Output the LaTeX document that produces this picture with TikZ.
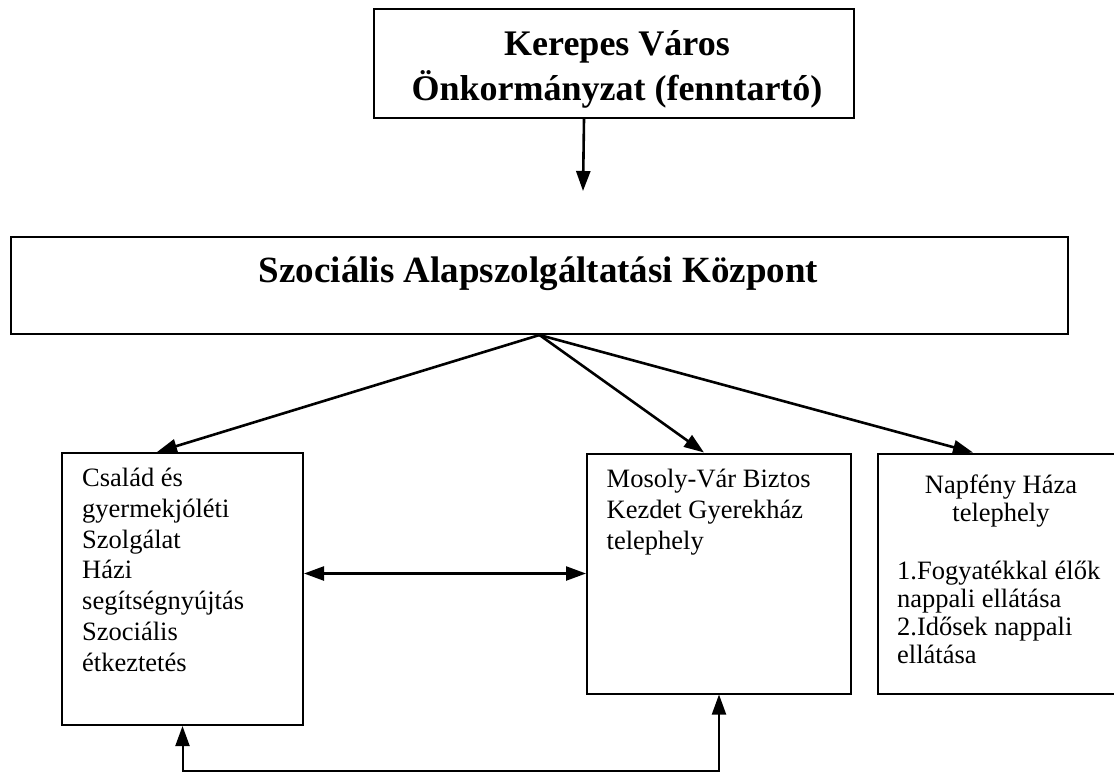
\documentclass[tikz,border=0pt]{standalone}
\usepackage{fontspec}
\setmainfont{Liberation Serif}
\usetikzlibrary{arrows.meta}

\begin{document}
\begin{tikzpicture}[x=1pt, y=-1pt,
    doboz/.style={draw, line width=2pt, inner sep=0pt, anchor=north west},
    cim/.style={font=\fontsize{36}{45}\selectfont\bfseries, inner sep=0pt},
    szoveg/.style={font=\fontsize{26.5}{30.7}\selectfont, align=left, inner sep=0pt},
    nyil/.style={-{Triangle[length=20pt,width=14pt]}, line width=2.6pt},
    ketnyil/.style={{Triangle[length=20pt,width=14pt]}-{Triangle[length=20pt,width=14pt]}, line width=2.4pt}]

    % Fix the page size
    \useasboundingbox (0,0) rectangle (1114,772);
    \clip (0,0) rectangle (1114,772);

    % Draw the boxes
    \node[doboz, minimum width=480pt, minimum height=109pt] (fenntarto) at (373,8) {};
    \node[doboz, minimum width=1057pt, minimum height=97pt] (kozpont) at (10,236) {};
    \node[doboz, minimum width=241pt, minimum height=272pt] (csalad) at (61,452) {};
    \node[doboz, minimum width=264pt, minimum height=240pt] (mosoly) at (586,452.5) {};
    \node[doboz, minimum width=248pt, minimum height=240pt] (napfeny) at (877,452.5) {};

    % Label the boxes (base = last line)
    \node[cim, align=center, anchor=base] (fenntartocim) at (617,100)
        {Kerepes Város\\Önkormányzat (fenntartó)};
    \node[cim, font=\fontsize{37}{43}\selectfont\bfseries, anchor=base] (kozpontcim) at (538.5,282)
        {Szociális Alapszolgáltatási Központ};
    \node[szoveg, anchor=base west] (csaladtxt) at (82,671)
        {Család és\\gyermekjóléti\\Szolgálat\\Házi\\segítségnyújtás\\Szociális\\étkeztetés};
    \node[szoveg, anchor=base west] (mosolytxt) at (606.5,549)
        {Mosoly-Vár Biztos\\Kezdet Gyerekház\\telephely};
    \node[szoveg, font=\fontsize{26.5}{28}\selectfont, align=center, anchor=base] (napfenycim) at (1001,521)
        {Napfény Háza\\telephely};
    \node[szoveg, font=\fontsize{26.5}{28}\selectfont, anchor=base west] (napfenytxt) at (897,663)
        {1.Fogyatékkal élők\\nappali ellátása\\2.Idősek nappali\\ellátása};

    % Draw the arrows
    \coordinate (nyilvege) at (583,191);
    \draw[nyil] ([xshift=-30pt]fenntarto.south) -- (nyilvege);
    \draw[nyil] (kozpont.south) -- ([xshift=-25.5pt]csalad.north);
    \draw[nyil] (kozpont.south) -- ([xshift=-15pt]mosoly.north);
    \draw[nyil] (kozpont.south) -- ([xshift=-29pt]napfeny.north);
    \draw[ketnyil] (csalad.east |- mosoly.west) -- (mosoly.west);

    % Connect the two lower boxes
    \coordinate (alja) at (450,770.5);
    \draw[ketnyil, line width=2pt] (csalad.south) -- (csalad.south |- alja)
        -- (mosoly.south |- alja) -- (mosoly.south);

\end{tikzpicture}
\end{document}
